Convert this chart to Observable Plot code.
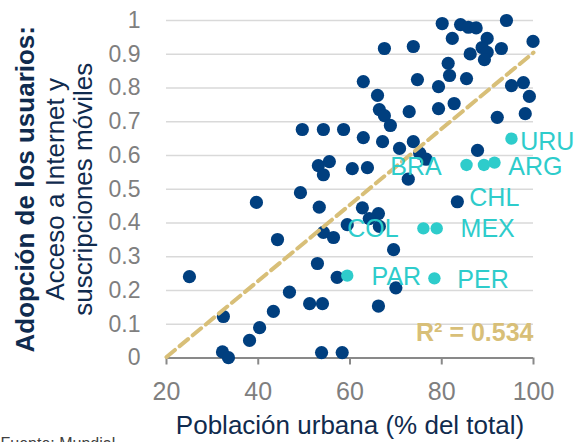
<!DOCTYPE html>
<html>
<head>
<meta charset="utf-8">
<script src="https://cdn.jsdelivr.net/npm/d3@7"></script>
<script src="https://cdn.jsdelivr.net/npm/@observablehq/plot@0.6"></script>
<style>
  html, body { margin: 0; padding: 0; background: #ffffff; overflow: hidden; }
  #chart { width: 574px; height: 442px; }
</style>
</head>
<body>
<div id="chart"></div>
<script>
// Dark (other countries) points
const darkX = [39.6, 44.2, 25.0, 46.8, 43.3, 32.4, 40.3, 38.1, 32.2, 33.5,
  49.2, 53.3, 62.7, 66.2, 64.2, 59.4, 66.4, 54.2, 56.4, 69.5,
  52.9, 57.2, 70.0, 51.2, 54.0, 66.2, 53.8, 58.3,
  67.5, 73.8, 62.9, 74.7, 66.0, 66.4, 67.5, 72.9, 68.8, 49.6,
  54.2, 58.6, 62.9, 67.1, 70.8, 73.8, 53.1, 55.5, 54.2, 60.5,
  63.8, 72.7, 75.2, 76.6,
  80.1, 84.1, 85.8, 87.5, 94.1, 82.3, 89.9, 99.9, 93.0, 88.8,
  89.9, 86.2, 89.3, 81.4, 81.7, 85.4, 79.3, 95.2, 97.8, 99.1,
  79.3, 82.7, 92.1, 98.2, 87.8, 83.4];
const darkY = [0.461, 0.351, 0.241, 0.195, 0.138, 0.123, 0.090, 0.052, 0.018, 0.001,
  0.490, 0.447, 0.445, 0.428, 0.413, 0.395, 0.390, 0.372, 0.357, 0.321,
  0.280, 0.239, 0.208, 0.161, 0.161, 0.154, 0.016, 0.016,
  0.917, 0.923, 0.819, 0.825, 0.778, 0.736, 0.718, 0.730, 0.689, 0.677,
  0.677, 0.677, 0.653, 0.641, 0.621, 0.641, 0.570, 0.582, 0.543, 0.561,
  0.564, 0.530, 0.607, 0.589,
  0.991, 0.988, 0.980, 0.978, 1.000, 0.947, 0.947, 0.938, 0.917, 0.920,
  0.906, 0.901, 0.884, 0.873, 0.837, 0.828, 0.804, 0.807, 0.816, 0.775,
  0.739, 0.754, 0.713, 0.724, 0.615, 0.463];

// Highlighted (Latin American) points
const tealX = [95.2, 85.4, 89.2, 91.5, 76.0, 78.9, 59.4, 78.4];
const tealY = [0.650, 0.572, 0.572, 0.579, 0.384, 0.384, 0.244, 0.236];

// Country labels (text start position in data units)
const labelText = ["URU", "ARG", "BRA", "CHL", "COL", "MEX", "PAR", "PER"];
const labelX = [97.1, 94.5, 68.8, 86.0, 59.4, 84.1, 64.7, 83.4];
const labelY = [0.641, 0.567, 0.567, 0.475, 0.383, 0.383, 0.241, 0.231];

// Trend line endpoints
const trendX = [20, 100];
const trendY = [0.003, 0.905];
const r2Text = "R² = 0.534";
const r2X = 100;
const r2Y = 0.073;

// Ticks
const xTicks = [20, 40, 60, 80, 100];
const yTicks = [0, 0.1, 0.2, 0.3, 0.4, 0.5, 0.6, 0.7, 0.8, 0.9, 1];
const yTickLabels = ["0", "0.1", "0.2", "0.3", "0.4", "0.5", "0.6", "0.7", "0.8", "0.9", "1"];

const xTitle = "Población urbana (% del total)";
const yTitle1 = "Adopción de los usuarios:";
const yTitle2 = "Acceso a Internet y";
const yTitle3 = "suscripciones móviles";
const sourceNote = "Fuente: Mundial";

const dark = darkX.map((x, i) => ({x, y: darkY[i]}));
const teal = tealX.map((x, i) => ({x, y: tealY[i]}));
const labels = labelText.map((t, i) => ({t, x: labelX[i], y: labelY[i]}));
const trend = trendX.map((x, i) => ({x, y: trendY[i]}));

const navy = "#003f7f";
const tealC = "#2ecccb";
const tan = "#d8bf78";
const titleC = "#102b4e";
const grayT = "#7f7f7f";

const chart = Plot.plot({
  width: 574,
  height: 442,
  marginLeft: 166,
  marginRight: 41,
  marginTop: 20,
  marginBottom: 84.5,
  x: {domain: [20, 100]},
  y: {domain: [0, 1]},
  style: {fontFamily: "'Liberation Sans', Arial, sans-serif", background: "#ffffff", overflow: "visible"},
  marks: [
    Plot.gridY(yTicks, {stroke: "#d9d9d9", strokeOpacity: 1, strokeWidth: 1.5}),
    Plot.axisY(yTicks, {tickSize: 0, tickPadding: 26, fontSize: 23, fill: grayT, label: null,
      tickFormat: d => yTickLabels[yTicks.indexOf(d)]}),
    Plot.ruleY([0], {stroke: "#898989", strokeWidth: 2}),
    Plot.axisX(xTicks, {tickSize: 7, tickPadding: 17, fontSize: 25, fill: grayT, stroke: "#898989", strokeWidth: 2, label: null}),
    Plot.dot(dark, {x: "x", y: "y", r: 6.6, fill: navy, stroke: "none"}),
    Plot.line(trend, {x: "x", y: "y", stroke: tan, strokeWidth: 4, strokeDasharray: "11,6"}),
    Plot.dot(teal, {x: "x", y: "y", r: 6.2, fill: tealC, stroke: "none"}),
    Plot.text(labels, {x: "x", y: "y", text: "t", textAnchor: "start", fontSize: 25, fill: tealC}),
    Plot.text([r2Text], {x: () => r2X, y: () => r2Y, text: d => d, textAnchor: "end", fontSize: 25, fontWeight: "bold", fill: tan}),
    Plot.text([xTitle], {frameAnchor: "bottom", dy: 75.5, lineAnchor: "bottom", fontSize: 26, fill: titleC}),
    Plot.text([yTitle1], {frameAnchor: "left", dx: -141, rotate: -90, textAnchor: "middle", fontSize: 26, fontWeight: "bold", fill: titleC}),
    Plot.text([yTitle2], {frameAnchor: "left", dx: -111, rotate: -90, textAnchor: "middle", fontSize: 26, fill: titleC}),
    Plot.text([yTitle3], {frameAnchor: "left", dx: -83, rotate: -90, textAnchor: "middle", fontSize: 26, fill: titleC}),
    Plot.text([sourceNote], {frameAnchor: "bottom-left", dx: -166, dy: 91, lineAnchor: "bottom", textAnchor: "start", fontSize: 16, fill: "#404040"})
  ]
});
document.getElementById("chart").appendChild(chart);
</script>
</body>
</html>
